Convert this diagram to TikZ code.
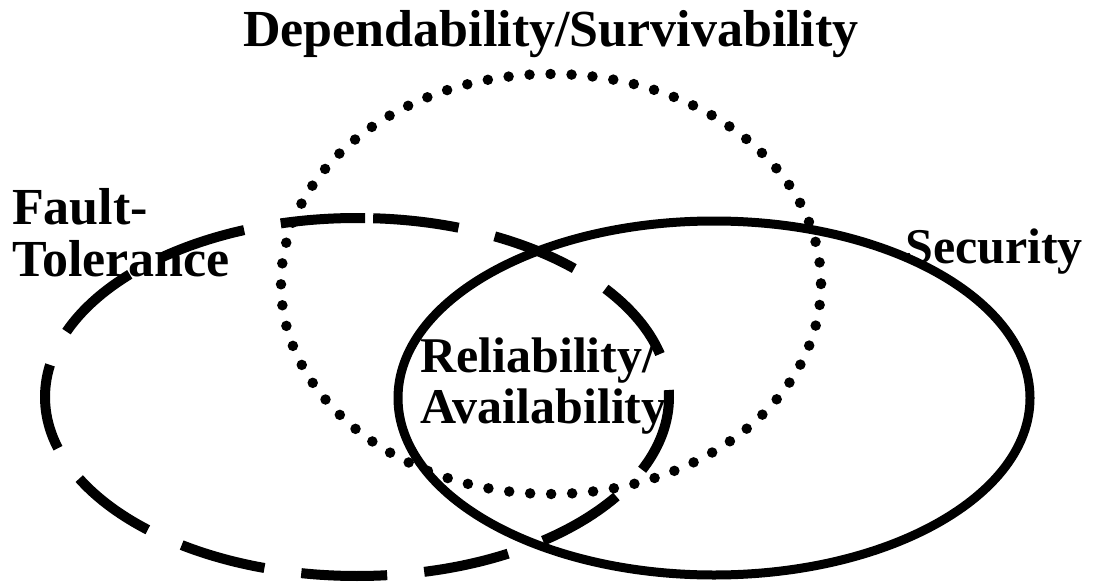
\documentclass[tikz,border=0pt]{standalone}
\usepackage{fontspec}
\setmainfont{Liberation Serif}
\usetikzlibrary{calc}
\tikzset{
  lbl/.style={font=\bfseries\fontsize{50}{52}\selectfont, inner sep=0pt, align=left},
  biglbl/.style={lbl, font=\bfseries\fontsize{52}{54}\selectfont},
  dottedring/.style={line width=10.5pt, line cap=round, dash pattern=on 0pt off 21.02pt},
  dashedring/.style={line width=10pt, dash pattern=on 86pt off 37.2pt, dash phase=115.2pt},
  solidring/.style={line width=9pt}
}
\begin{document}
\begin{tikzpicture}[x=1pt,y=-1pt]
\useasboundingbox (0,0) rectangle (1094,583);
\draw[dottedring] (551,284) ellipse [x radius=270, y radius=210];
% dashed ellipse, centre (357,397), started at its top seam
\draw[dashedring] ($(357,397)+({312*cos(271.5)},{179*sin(271.5)})$)
  arc [start angle=271.5, end angle=631.5, x radius=312, y radius=179];
\draw[solidring] (714,398) ellipse [x radius=316, y radius=177];
\node[biglbl, anchor=base] (dep) at (551,47) {Dependability/Survivability};
\node[biglbl, anchor=base west] (ft1) at (12,224) {Fault-};
\node[biglbl, anchor=base west] (ft2) at (12,276) {Tolerance};
\node[lbl, anchor=base west] (sec) at (905,263) {Security};
\node[lbl, anchor=base west] (ra1) at (420,372) {Reliability/};
\node[lbl, anchor=base west] (ra2) at (420,423) {Availability};
\end{tikzpicture}
\end{document}
